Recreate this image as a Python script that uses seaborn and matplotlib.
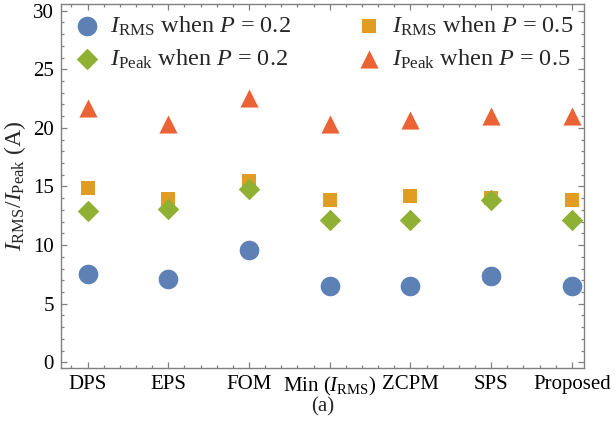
import numpy as np
import pandas as pd
import seaborn as sns
import matplotlib.pyplot as plt
from matplotlib.ticker import MultipleLocator

# Modulation methods compared
methods = ["DPS", "EPS", "FOM", r"Min ($I_{\mathrm{RMS}}$)", "ZCPM", "SPS", "Proposed"]

# Currents in A
irms_p02 = [7.5, 7.1, 9.6, 6.5, 6.5, 7.4, 6.5]
ipeak_p02 = [12.9, 13.05, 14.8, 12.15, 12.15, 13.85, 12.15]
irms_p05 = [14.9, 13.95, 15.45, 13.85, 14.15, 14.0, 13.85]
ipeak_p05 = [21.7, 20.35, 22.55, 20.35, 20.7, 21.05, 21.05]

yticks = [0, 5, 10, 15, 20, 25, 30]

sns.set_theme(style="ticks")
plt.rcParams.update({
    "font.family": ["Liberation Serif", "DejaVu Serif"],
    "mathtext.fontset": "custom",
    "mathtext.rm": "Liberation Serif",
    "mathtext.it": "Liberation Serif:italic",
    "mathtext.bf": "Liberation Serif:bold",
    "font.size": 15,
})

blue, orange, green, red = "#5E81B5", "#E19C24", "#8FB032", "#EB6235"

fig = plt.figure(figsize=(6.15, 4.25), dpi=100)
ax = fig.add_axes([61 / 615, 57 / 425, 523 / 615, 364 / 425])

x = np.arange(len(methods))
df = pd.DataFrame({"x": x, "irms02": irms_p02, "ipeak02": ipeak_p02,
                   "irms05": irms_p05, "ipeak05": ipeak_p05})

lab_rms02 = r"$I_{\mathrm{RMS}}$ when $P$ = 0.2"
lab_pk02 = r"$I_{\mathrm{Peak}}$ when $P$ = 0.2"
lab_rms05 = r"$I_{\mathrm{RMS}}$ when $P$ = 0.5"
lab_pk05 = r"$I_{\mathrm{Peak}}$ when $P$ = 0.5"

sns.scatterplot(data=df, x="x", y="irms02", marker="o", s=200, color=blue,
                linewidth=0, ax=ax, label=lab_rms02, zorder=3)
sns.scatterplot(data=df, x="x", y="irms05", marker="s", s=100, color=orange,
                linewidth=0, ax=ax, label=lab_rms05, zorder=3)
sns.scatterplot(data=df, x="x", y="ipeak02", marker="D", s=120, color=green,
                linewidth=0, ax=ax, label=lab_pk02, zorder=4)
sns.scatterplot(data=df, x="x", y="ipeak05", marker="^", s=170, color=red,
                linewidth=0, ax=ax, label=lab_pk05, zorder=4)

ax.set_xlim(-0.33, 6.15)
ax.set_ylim(-0.49, 30.57)
ax.set_xticks(x, methods)
ax.set_yticks(yticks)
ax.xaxis.set_minor_locator(MultipleLocator(0.2))
ax.yaxis.set_minor_locator(MultipleLocator(1))

frame = "#808080"
for sp in ax.spines.values():
    sp.set_visible(True)
    sp.set_color(frame)
    sp.set_linewidth(1.0)
ax.tick_params(which="both", direction="in", top=True, right=True,
               color=frame, width=0.9, labelsize=15, labelcolor="black")
ax.tick_params(which="major", length=4, pad=5)
ax.tick_params(which="minor", length=2.5)

ax.set_xlabel("")
ax.set_ylabel(r"$I_{\mathrm{RMS}}/I_{\mathrm{Peak}}$ (A)", fontsize=17)
ax.yaxis.set_label_coords(-0.064, 0.5)

handles, labels = ax.get_legend_handles_labels()
order = [0, 2, 1, 3]
ax.legend([handles[i] for i in order], [labels[i] for i in order],
          loc="upper left", ncol=2, frameon=False, fontsize=17.5,
          bbox_to_anchor=(0.008, 0.997), borderaxespad=0,
          handletextpad=0.45, columnspacing=2.7,
          labelspacing=0.4, handlelength=1.0)

fig.text(0.525, 1 - 407 / 425, "(a)", ha="center", va="center", fontsize=15)

fig.savefig("out.png", dpi=100)
